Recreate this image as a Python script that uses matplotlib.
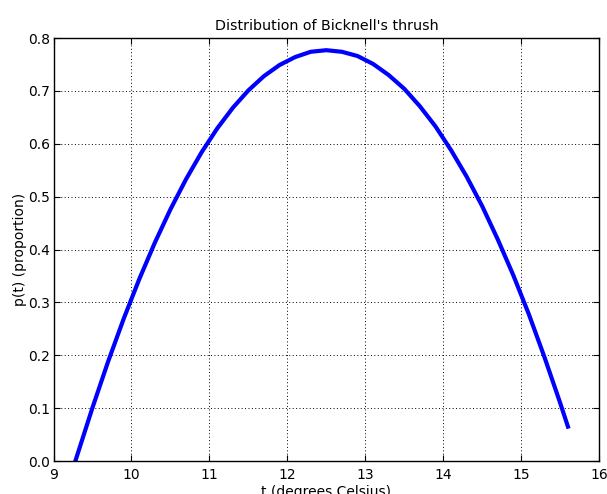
import matplotlib
matplotlib.use('Agg')
import matplotlib.pyplot as plt

# Temperature (deg C) and proportion
temps = [9.28, 9.5, 9.7, 9.9, 10.1, 10.3, 10.5, 10.7, 10.9, 11.1, 11.3, 11.5,
         11.7, 11.9, 12.1, 12.3, 12.5, 12.7, 12.9, 13.1, 13.3, 13.5, 13.7,
         13.9, 14.1, 14.3, 14.5, 14.7, 14.9, 15.1, 15.3, 15.5, 15.6]
props = [0.000, 0.101, 0.188, 0.269, 0.344, 0.413, 0.476, 0.533, 0.584, 0.629,
         0.668, 0.701, 0.728, 0.749, 0.764, 0.774, 0.777, 0.774, 0.766, 0.751,
         0.730, 0.704, 0.671, 0.633, 0.588, 0.538, 0.482, 0.419, 0.351, 0.277,
         0.196, 0.110, 0.065]

plt.rcParams['font.size'] = 10
plt.rcParams['font.family'] = 'DejaVu Sans'

fig = plt.figure(figsize=(6.07, 4.94), dpi=100)
ax = fig.add_axes([0.0882, 0.0668, 0.8988, 0.8562])
ax.plot(temps, props, color='blue', linewidth=3)
ax.set_xlim(9, 16)
ax.set_ylim(0, 0.8)
ax.set_xticks(range(9, 17))
ax.set_yticks([i / 10 for i in range(9)])
ax.set_yticklabels(['%.1f' % (i / 10) for i in range(9)])
ax.grid(True, color='black', linestyle=(0, (1, 2.5)), linewidth=0.7)
ax.tick_params(direction='in', top=True, right=True, length=4)
ax.tick_params(axis='x', pad=5)
ax.tick_params(axis='y', pad=2.5)
for s in ax.spines.values():
    s.set_linewidth(1.0)
ax.set_title("Distribution of Bicknell's thrush", fontsize=10.3)
ax.set_xlabel('t (degrees Celsius)', labelpad=2)
ax.set_ylabel('p(t) (proportion)', labelpad=1)

fig.savefig('out.png', dpi=100)
